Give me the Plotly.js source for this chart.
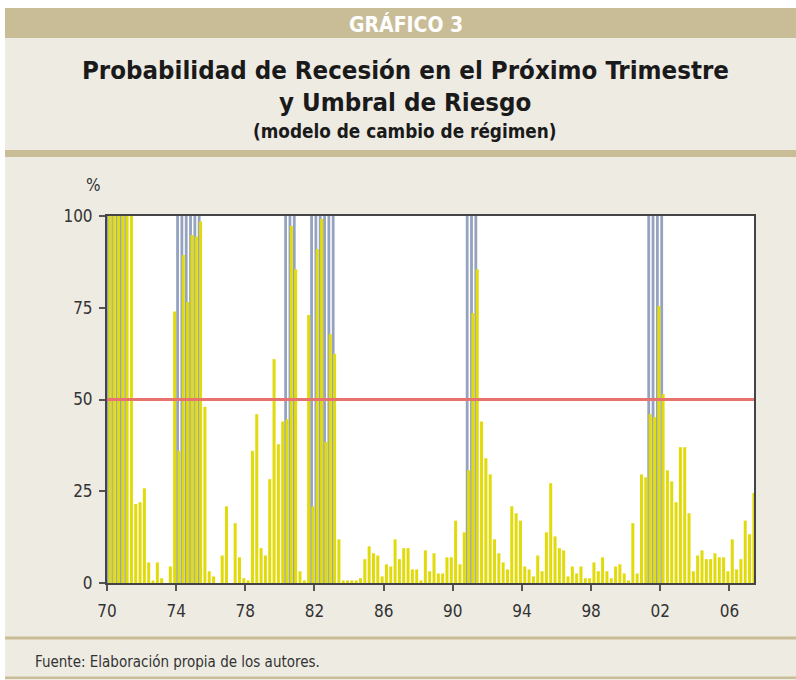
<!DOCTYPE html>
<html>
<head>
<meta charset="utf-8">
<script src="https://cdn.plot.ly/plotly-3.0.1.min.js"></script>
<style>
html,body{margin:0;padding:0;background:#ffffff;}
#chart{width:796px;height:680px;}
</style>
</head>
<body>
<div id="chart"></div>
<script>
// ---------------- DATA ----------------
const startYear = 1970;

// Probabilidad de recesión en el próximo trimestre (%), trimestral 1970T1 - 2007T2
const probabilidad = [
  // 1970-1973
  100, 100, 100, 100, 100, 100, 21.5, 22, 25.8, 5.6, 0.7, 5.6, 1.3, 0, 4.5, 74,
  // 1974-1977
  36, 89.4, 76.6, 94.8, 94.4, 98.5, 48, 3.2, 1.8, 0, 7.5, 20.9, 0, 16.3, 7, 1.3,
  // 1978-1981
  0.7, 36, 46, 9.5, 7.5, 28.3, 61, 37.8, 44, 44.6, 97.3, 85.5, 3.2, 0.7, 73, 20.9,
  // 1982-1985
  91, 99.2, 38.4, 67.8, 62.4, 11.9, 0.7, 0.7, 0.7, 0.7, 1.3, 6.5, 10, 8.1, 7.5, 1.8,
  // 1986-1989
  5.1, 4.5, 11.9, 6.5, 9.5, 9.5, 3.7, 3.7, 0.7, 8.9, 3.2, 8.1, 2.6, 2.6, 7, 7,
  // 1990-1993
  17, 5.1, 13.8, 30.7, 73.6, 85.5, 44, 34, 29.6, 11.9, 8.1, 5.6, 3.7, 20.9, 19, 17,
  // 1994-1997
  4.5, 3.7, 1.8, 7.5, 3.2, 13.8, 27.2, 12.7, 9.5, 8.9, 1.8, 4.5, 2.6, 4.5, 1.3, 1.3,
  // 1998-2001
  5.6, 3.2, 7, 3.2, 1.3, 4.5, 5.1, 2.6, 0.7, 16.3, 2.6, 29.6, 28.8, 46, 45.2, 75.5,
  // 2002-2005
  51.5, 30.7, 27.7, 22, 37, 37, 19, 3.2, 7.5, 8.9, 6.5, 6.5, 8.1, 7, 7, 3.2,
  // 2006-2007
  11.9, 3.7, 6.5, 17, 13.3, 24.5
];

// Periodos de recesión (barras azules = 100)
const recesionInicio = ['1970T1', '1974T1', '1980T2', '1981T4', '1990T4', '2001T2'];
const recesionFin    = ['1971T1', '1975T2', '1980T4', '1983T1', '1991T2', '2002T1'];
const valorRecesion = 100;

const umbral = 50;

const tickYears  = [1970, 1974, 1978, 1982, 1986, 1990, 1994, 1998, 2002, 2006];
const tickLabels = ['70', '74', '78', '82', '86', '90', '94', '98', '02', '06'];
const yTicks = [0, 25, 50, 75, 100];

// ---------------- BUILD ----------------
const trimestres = probabilidad.map((_, i) => (startYear + Math.floor(i / 4)) + 'T' + (i % 4 + 1));
const toIndex = t => { const p = t.split('T'); return (+p[0] - startYear) * 4 + (+p[1] - 1); };
const xPos = trimestres.map(t => { const p = t.split('T'); return +p[0] + (+p[1] - 1) / 4; });
const recesion = trimestres.map((t, i) => {
  for (let r = 0; r < recesionInicio.length; r++) {
    if (i >= toIndex(recesionInicio[r]) && i <= toIndex(recesionFin[r])) return valorRecesion;
  }
  return 0;
});

const FONT = "'Liberation Sans Narrow', 'DejaVu Sans Condensed', 'Open Sans', sans-serif";
const TAN = '#C9BD98';
const BEIGE = '#EEEBE3';

// pixel -> paper helpers (layout geometry)
const W = 796, H = 680, ML = 107, MR = 42, MT = 216, MB = 97;
const PW = W - ML - MR, PH = H - MT - MB;
const px = x => (x - ML) / PW;
const py = y => (H - MB - y) / PH;

const traces = [
  {
    type: 'bar', x: xPos, y: recesion, name: 'Recesión',
    offset: 0, width: 0.1625,
    marker: {color: '#95A3C0', line: {width: 0}},
    hoverinfo: 'skip'
  },
  {
    type: 'bar', x: xPos, y: probabilidad, name: 'Probabilidad',
    offset: 0.075, width: 0.175, cliponaxis: false,
    marker: {color: '#E2DB0C', line: {width: 0}},
    text: trimestres, textposition: 'none',
    hovertemplate: '%{text}: %{y}%<extra></extra>'
  }
];

const shapes = [
  // white outer margins
  {type: 'rect', xref: 'paper', yref: 'paper', x0: px(0), x1: px(5), y0: py(H), y1: py(0), fillcolor: '#ffffff', line: {width: 0}, layer: 'below'},
  {type: 'rect', xref: 'paper', yref: 'paper', x0: px(0), x1: px(W), y0: py(8), y1: py(0), fillcolor: '#ffffff', line: {width: 0}, layer: 'below'},
  // header band
  {type: 'rect', xref: 'paper', yref: 'paper', x0: px(5), x1: px(W), y0: py(38), y1: py(8), fillcolor: TAN, line: {width: 0}, layer: 'below'},
  // rule under title
  {type: 'rect', xref: 'paper', yref: 'paper', x0: px(5), x1: px(W), y0: py(157), y1: py(150), fillcolor: TAN, line: {width: 0}, layer: 'below'},
  // rule above source
  {type: 'rect', xref: 'paper', yref: 'paper', x0: px(5), x1: px(W), y0: py(639.5), y1: py(636.5), fillcolor: TAN, line: {width: 0}, layer: 'below'},
  // bottom rule
  {type: 'rect', xref: 'paper', yref: 'paper', x0: px(5), x1: px(W), y0: py(679), y1: py(676.5), fillcolor: TAN, line: {width: 0}, layer: 'below'},
  // threshold line
  {type: 'line', xref: 'paper', yref: 'y', x0: 0, x1: 1, y0: umbral, y1: umbral, line: {color: '#E8726E', width: 3}, layer: 'above'}
];

const annotations = [
  {text: '<b>GRÁFICO 3</b>', xref: 'paper', yref: 'paper', x: px(406), y: py(24), xanchor: 'center', yanchor: 'middle', showarrow: false,
   font: {family: FONT, size: 21, color: '#ffffff'}},
  {text: '<b>Probabilidad de Recesión en el Próximo Trimestre</b>', xref: 'paper', yref: 'paper', x: px(405), y: py(70), xanchor: 'center', yanchor: 'middle', showarrow: false,
   font: {family: FONT, size: 25.6, color: '#1a1a1a'}},
  {text: '<b>y Umbral de Riesgo</b>', xref: 'paper', yref: 'paper', x: px(405), y: py(102), xanchor: 'center', yanchor: 'middle', showarrow: false,
   font: {family: FONT, size: 25.6, color: '#1a1a1a'}},
  {text: '<b>(modelo de cambio de régimen)</b>', xref: 'paper', yref: 'paper', x: px(405), y: py(131), xanchor: 'center', yanchor: 'middle', showarrow: false,
   font: {family: FONT, size: 18.8, color: '#1a1a1a'}},
  {text: '%', xref: 'paper', yref: 'paper', x: px(93), y: py(185), xanchor: 'center', yanchor: 'middle', showarrow: false,
   font: {family: FONT, size: 17, color: '#333333'}},
  {text: 'Fuente: Elaboración propia de los autores.', xref: 'paper', yref: 'paper', x: px(33), y: py(662), xanchor: 'left', yanchor: 'middle', showarrow: false,
   font: {family: FONT, size: 15, color: '#333333'}}
];

const layout = {
  width: W, height: H,
  margin: {l: ML, r: MR, t: MT, b: MB, pad: 0},
  paper_bgcolor: BEIGE,
  plot_bgcolor: '#ffffff',
  barmode: 'overlay',
  showlegend: false,
  font: {family: FONT, color: '#333333'},
  xaxis: {
    range: [startYear, 2007.42],
    tickmode: 'array', tickvals: tickYears, ticktext: tickLabels,
    ticks: 'outside', ticklen: 6, tickwidth: 2, tickcolor: '#555555',
    showline: true, mirror: true, linecolor: '#444444', linewidth: 2,
    showgrid: false, zeroline: false,
    tickfont: {family: FONT, size: 17, color: '#333333'},
    ticklabelstandoff: 6,
    fixedrange: true
  },
  yaxis: {
    range: [0, 100],
    tickmode: 'array', tickvals: yTicks,
    ticks: 'outside', ticklen: 6, tickwidth: 2, tickcolor: '#555555',
    showline: true, mirror: true, linecolor: '#444444', linewidth: 2,
    showgrid: false, zeroline: false,
    tickfont: {family: FONT, size: 17, color: '#333333'},
    ticklabelstandoff: 3,
    fixedrange: true
  },
  shapes: shapes,
  annotations: annotations
};

Plotly.newPlot('chart', traces, layout, {displayModeBar: false});
</script>
</body>
</html>
